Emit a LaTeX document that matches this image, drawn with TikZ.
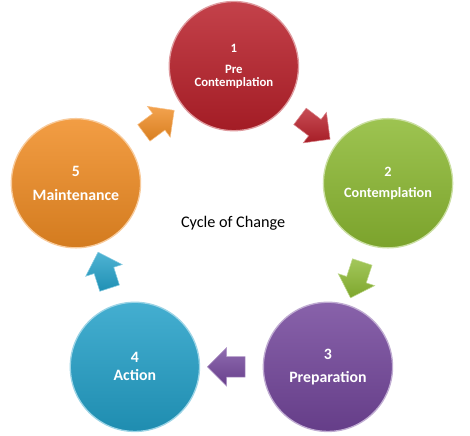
\documentclass[tikz,border=0pt]{standalone}
\usepackage{fontspec}
\setmainfont{Carlito}
\usetikzlibrary{shapes.arrows}
\definecolor{stagered}{RGB}{185,32,42}
\definecolor{stagegreen}{RGB}{140,185,50}
\definecolor{stagepurple}{RGB}{115,70,155}
\definecolor{stageblue}{RGB}{35,160,200}
\definecolor{stageorange}{RGB}{240,140,35}
\tikzset{
  stage/.style={circle, minimum size=3.42cm, inner sep=0pt, align=center,
    text=white, top color=#1!85!white, bottom color=#1!88!black,
    draw=#1!45!white, line width=1pt},
  turn/.style={single arrow, minimum height=1.0cm, minimum width=1.0cm,
    single arrow head extend=0.235cm, inner xsep=0pt, inner ysep=0.265cm,
    top color=#1!80!white, bottom color=#1!90!black, draw=#1!55!white,
    line width=0.4pt}
}
\newcommand{\stagefont}[1]{\bfseries\fontsize{#1}{14}\selectfont}
\begin{document}
\begin{tikzpicture}
        \useasboundingbox (0, 0) rectangle (12.44, 11.54);

        \node[stage=stagered, font=\stagefont{9.6}]     (c1) at (6.19, 9.79) {1\\[2pt]Pre\\[-4.2pt]Contemplation};
        \node[stage=stagegreen, font=\stagefont{10.7}]  (c2) at (10.27, 6.69) {2\\[1.75pt]Contemplation};
        \node[stage=stagepurple, font=\stagefont{11.9}] (c3) at (8.68, 1.83) {3\\[3pt]Preparation};
        \node[stage=stageblue, font=\stagefont{11.9}]   (c4) at (3.57, 1.83) {4\\[-0.5pt]Action};
        \node[stage=stageorange, font=\stagefont{11.9}] (c5) at (2.01, 6.69) {5\\[4pt]Maintenance};

        \path (c1) -- node[turn=stagered, sloped, allow upside down] (t1) {} (c2);
        \path (c2) -- node[turn=stagegreen, sloped, allow upside down] (t2) {} (c3);
        \path (c3) -- node[turn=stagepurple, sloped, allow upside down] (t3) {} (c4);
        \path (c4) -- node[turn=stageblue, sloped, allow upside down] (t4) {} (c5);
        \path (c5) -- node[turn=stageorange, sloped, allow upside down] (t5) {} (c1);

        \node (title) at (6.17, 5.64) {\fontsize{12.2}{14}\selectfont Cycle of Change};
      \end{tikzpicture}
\end{document}
